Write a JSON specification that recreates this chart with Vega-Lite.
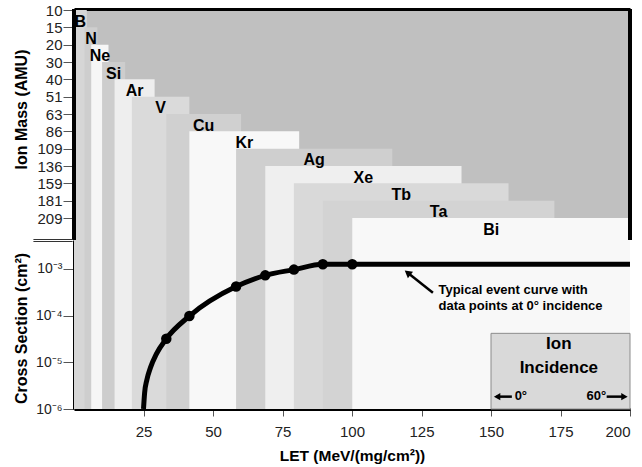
{
  "$schema": "https://vega.github.io/schema/vega-lite/v6.json",
  "padding": {"left": 12, "top": 3, "right": 5, "bottom": 0},
  "background": "white",
  "spacing": 0,
  "bounds": "flush",
  "config": {
    "font": "Liberation Sans",
    "view": {"stroke": null, "fill": "#c0c0c0"},
    "axis": {
      "labelFont": "Liberation Sans", "labelFontSize": 15, "labelColor": "#222",
      "titleFont": "Liberation Sans", "titleFontSize": 16, "titleFontWeight": "bold", "titleColor": "#000",
      "domainColor": "#000", "domainWidth": 3, "tickColor": "#555", "tickWidth": 1,
      "grid": false, "zindex": 1
    }
  },
  "datasets": {
    "ions": [
      {"ion": "B", "mass": 10, "lo": 0, "hi": 4.6},
      {"ion": "N", "mass": 15, "lo": 3.8, "hi": 8.4},
      {"ion": "Ne", "mass": 20, "lo": 6.2, "hi": 12.4},
      {"ion": "Si", "mass": 30, "lo": 10.1, "hi": 18.4},
      {"ion": "Ar", "mass": 40, "lo": 14.6, "hi": 29.0},
      {"ion": "V", "mass": 51, "lo": 20.8, "hi": 41.5},
      {"ion": "Cu", "mass": 63, "lo": 33.2, "hi": 60.1},
      {"ion": "Kr", "mass": 86, "lo": 41.5, "hi": 81.0},
      {"ion": "Ag", "mass": 109, "lo": 58.3, "hi": 114.5},
      {"ion": "Xe", "mass": 136, "lo": 68.8, "hi": 139.4},
      {"ion": "Tb", "mass": 159, "lo": 79.1, "hi": 156.3},
      {"ion": "Ta", "mass": 181, "lo": 89.5, "hi": 172.8},
      {"ion": "Bi", "mass": 209, "lo": 100.1, "hi": 200}
    ],
    "curve": [
      {"let": 25, "sigma": 1e-6},
      {"let": 25.4, "sigma": 2.2e-6},
      {"let": 26.2, "sigma": 4.2e-6},
      {"let": 27.5, "sigma": 7.7e-6},
      {"let": 29.6, "sigma": 1.5e-5},
      {"let": 33.2, "sigma": 3.2e-5},
      {"let": 41.5, "sigma": 9.8e-5},
      {"let": 58.3, "sigma": 4.2e-4},
      {"let": 68.8, "sigma": 7.3e-4},
      {"let": 79.1, "sigma": 9.7e-4},
      {"let": 89.5, "sigma": 1.26e-3},
      {"let": 100.1, "sigma": 1.27e-3},
      {"let": 200, "sigma": 1.27e-3}
    ],
    "points": [
      {"ion": "Cu", "let": 33.2, "sigma": 3.2e-5},
      {"ion": "Kr", "let": 41.5, "sigma": 9.8e-5},
      {"ion": "Ag", "let": 58.3, "sigma": 4.2e-4},
      {"ion": "Xe", "let": 68.8, "sigma": 7.3e-4},
      {"ion": "Tb", "let": 79.1, "sigma": 9.7e-4},
      {"ion": "Ta", "let": 89.5, "sigma": 1.26e-3},
      {"ion": "Bi", "let": 100.1, "sigma": 1.26e-3}
    ]
  },
  "vconcat": [
    {
      "width": 556,
      "height": 231,
      "data": {"name": "ions"},
      "layer": [
        {
          "mark": {"type": "rect"},
          "encoding": {
            "x": {"field": "lo", "type": "quantitative", "scale": {"domain": [0, 200], "nice": false, "zero": false},
                  "axis": {"orient": "top", "labels": false, "ticks": false, "title": null, "domainWidth": 3}},
            "x2": {"field": "hi"},
            "y": {"field": "mass", "type": "ordinal", "scale": {"type": "point", "range": [1, 209], "padding": 0},
                  "axis": {"title": "Ion Mass (AMU)", "domain": false, "tickSize": 11, "labelPadding": 1, "titleX": -45, "titleY": 100}},
            "y2": {"value": "height"},
            "color": {"field": "ion", "type": "nominal", "legend": null,
              "scale": {"domain": ["B","N","Ne","Si","Ar","V","Cu","Kr","Ag","Xe","Tb","Ta","Bi"],
                        "range": ["#d6d6d6","#cecece","#f6f6f6","#cdcdcd","#eeeeee","#dadada","#d0d0d0","#f8f8f8","#cfcfcf","#efefef","#d9d9d9","#d3d3d3","#f8f8f8"]}}
          }
        },
        {
          "mark": {"type": "rule", "strokeWidth": 3, "color": "#000"},
          "encoding": {"x": {"datum": 0}}
        },
        {
          "mark": {"type": "rule", "strokeWidth": 3, "color": "#000"},
          "encoding": {"x": {"datum": 200}}
        },
        {
          "transform": [{"calculate": "(datum.lo + datum.hi) / 2", "as": "mid"}],
          "mark": {"type": "text", "fontSize": 16, "fontWeight": "bold", "baseline": "top", "align": "center", "dy": 3.5, "color": "#000"},
          "encoding": {
            "x": {"field": "mid", "type": "quantitative"},
            "y": {"field": "mass", "type": "ordinal"},
            "text": {"field": "ion"}
          }
        }
      ]
    },
    {
      "width": 556,
      "height": 169,
      "layer": [
        {
          "data": {"name": "ions"},
          "mark": {"type": "rect"},
          "encoding": {
            "x": {"field": "lo", "type": "quantitative", "scale": {"domain": [0, 200], "nice": false, "zero": false},
                  "axis": {"title": "LET (MeV/(mg/cm²))", "titleFontSize": 15.5, "values": [25, 50, 75, 100, 125, 150, 175, 200], "tickSize": 7, "labelPadding": 8, "titlePadding": 9}},
            "x2": {"field": "hi"},
            "color": {"field": "ion", "type": "nominal", "legend": null,
              "scale": {"domain": ["B","N","Ne","Si","Ar","V","Cu","Kr","Ag","Xe","Tb","Ta","Bi"],
                        "range": ["#d6d6d6","#cecece","#f6f6f6","#cdcdcd","#eeeeee","#dadada","#d0d0d0","#f8f8f8","#cfcfcf","#efefef","#d9d9d9","#d3d3d3","#f8f8f8"]}}
          }
        },
        {
          "data": {"values": [{"let": 150, "let2": 200, "sigma": 4.18e-5}]},
          "mark": {"type": "rect", "fill": "#d9d9d9", "stroke": "#8c8c8c", "strokeWidth": 1},
          "encoding": {
            "x": {"field": "let", "type": "quantitative"},
            "x2": {"field": "let2"},
            "y": {"field": "sigma", "type": "quantitative", "scale": {"type": "log", "domain": [1e-6, 4.18e-3], "nice": false},
                  "axis": {"title": "Cross Section (cm²)", "values": [1e-6, 1e-5, 1e-4, 1e-3], "tickSize": 11, "labelPadding": 1, "labelFontSize": 14,
                           "labelExpr": "datum.value > 5e-4 ? '10⁻³' : datum.value > 5e-5 ? '10⁻⁴' : datum.value > 5e-6 ? '10⁻⁵' : '10⁻⁶'",
                           "titleX": -45, "titleY": 88}},
            "y2": {"value": "height"}
          }
        },
        {
          "data": {"name": "curve"},
          "mark": {"type": "line", "interpolate": "monotone", "strokeWidth": 5, "color": "#000", "clip": true},
          "encoding": {
            "x": {"field": "let", "type": "quantitative"},
            "y": {"field": "sigma", "type": "quantitative"}
          }
        },
        {
          "data": {"name": "points"},
          "mark": {"type": "point", "filled": true, "size": 110, "color": "#000", "opacity": 1},
          "encoding": {
            "x": {"field": "let", "type": "quantitative"},
            "y": {"field": "sigma", "type": "quantitative"}
          }
        },
        {
          "data": {"values": [{"let": -14.6, "let2": -0.5, "sigma": 3.88e-3}, {"let": -14.6, "let2": -0.5, "sigma": 4.28e-3}]},
          "mark": {"type": "rule", "strokeWidth": 1.2, "color": "#333", "clip": false},
          "encoding": {
            "x": {"field": "let", "type": "quantitative"},
            "x2": {"field": "let2"},
            "y": {"field": "sigma", "type": "quantitative"}
          }
        },
        {
          "data": {"values": [{"let": 129.1, "let2": 120.6, "sigma": 3.1e-4, "sigma2": 7.8e-4}, {"let": 157.5, "let2": 152, "sigma": 1.84e-6, "sigma2": 1.84e-6}, {"let": 191.6, "let2": 198, "sigma": 1.84e-6, "sigma2": 1.84e-6}]},
          "mark": {"type": "rule", "strokeWidth": 2.5, "color": "#000"},
          "encoding": {
            "x": {"field": "let", "type": "quantitative"},
            "x2": {"field": "let2"},
            "y": {"field": "sigma", "type": "quantitative"},
            "y2": {"field": "sigma2"}
          }
        },
        {
          "data": {"values": [{"let": 120.0, "sigma": 8.28e-4}]},
          "mark": {"type": "point", "shape": "triangle-up", "angle": 308, "filled": true, "size": 70, "color": "#000", "opacity": 1},
          "encoding": {
            "x": {"field": "let", "type": "quantitative"},
            "y": {"field": "sigma", "type": "quantitative"}
          }
        },
        {
          "data": {"values": [{"let": 152.2, "sigma": 1.84e-6}]},
          "mark": {"type": "point", "shape": "triangle-left", "filled": true, "size": 55, "color": "#000", "opacity": 1},
          "encoding": {
            "x": {"field": "let", "type": "quantitative"},
            "y": {"field": "sigma", "type": "quantitative"}
          }
        },
        {
          "data": {"values": [{"let": 198.0, "sigma": 1.84e-6}]},
          "mark": {"type": "point", "shape": "triangle-right", "filled": true, "size": 55, "color": "#000", "opacity": 1},
          "encoding": {
            "x": {"field": "let", "type": "quantitative"},
            "y": {"field": "sigma", "type": "quantitative"}
          }
        },
        {
          "data": {"values": [{"let": 131.1, "sigma": 2.87e-4, "note": "Typical event curve with"}, {"let": 131.1, "sigma": 1.32e-4, "note": "data points at 0° incidence"}]},
          "mark": {"type": "text", "fontSize": 13, "fontWeight": "bold", "align": "left", "baseline": "alphabetic", "color": "#000"},
          "encoding": {
            "x": {"field": "let", "type": "quantitative"},
            "y": {"field": "sigma", "type": "quantitative"},
            "text": {"field": "note"}
          }
        },
        {
          "data": {"values": [{"let": 174.4, "sigma": 1.9e-5, "note": "Ion"}, {"let": 174.4, "sigma": 6.0e-6, "note": "Incidence"}]},
          "mark": {"type": "text", "fontSize": 17, "fontWeight": "bold", "align": "center", "baseline": "alphabetic", "color": "#000"},
          "encoding": {
            "x": {"field": "let", "type": "quantitative"},
            "y": {"field": "sigma", "type": "quantitative"},
            "text": {"field": "note"}
          }
        },
        {
          "data": {"values": [{"let": 158.5, "sigma": 1.53e-6, "note": "0°"}]},
          "mark": {"type": "text", "fontSize": 13, "fontWeight": "bold", "align": "left", "baseline": "alphabetic", "color": "#000"},
          "encoding": {
            "x": {"field": "let", "type": "quantitative"},
            "y": {"field": "sigma", "type": "quantitative"},
            "text": {"field": "note"}
          }
        },
        {
          "data": {"values": [{"let": 191.4, "sigma": 1.53e-6, "note": "60°"}]},
          "mark": {"type": "text", "fontSize": 13, "fontWeight": "bold", "align": "right", "baseline": "alphabetic", "color": "#000"},
          "encoding": {
            "x": {"field": "let", "type": "quantitative"},
            "y": {"field": "sigma", "type": "quantitative"},
            "text": {"field": "note"}
          }
        },
        {
          "mark": {"type": "rule", "strokeWidth": 3, "color": "#000"},
          "encoding": {"x": {"datum": 0}}
        },
        {
          "mark": {"type": "rule", "strokeWidth": 3, "color": "#000"},
          "encoding": {"x": {"datum": 200}}
        }
      ]
    }
  ]
}
